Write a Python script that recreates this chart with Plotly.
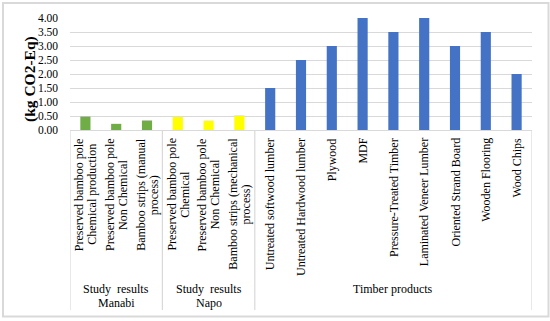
import plotly.graph_objects as go

categories = [
    ["Preserved bamboo pole", "Chemical production"],
    ["Preserved bamboo pole", "Non Chemical"],
    ["Bamboo strips (manual", "process)"],
    ["Preserved bamboo pole", "Chemical"],
    ["Preserved bamboo pole", "Non Chemical"],
    ["Bamboo strips (mechanical", "process)"],
    ["Untreated softwood lumber"],
    ["Untreated Hardwood lumber"],
    ["Plywood"],
    ["MDF"],
    ["Pressure-Treated Timber"],
    ["Laminated Veneer Lumber"],
    ["Oriented Strand Board"],
    ["Wooden Flooring"],
    ["Wood Chips"],
]
groups = ["Manabi"] * 3 + ["Napo"] * 3 + ["Timber"] * 9
values = [0.48, 0.22, 0.34, 0.48, 0.34, 0.53, 1.5, 2.5, 3.0, 4.0, 3.5, 4.0, 3.0, 3.5, 2.0]
group_labels = {"Manabi": ["Study&nbsp; results", "Manabi"],
                "Napo": ["Study&nbsp; results", "Napo"],
                "Timber": ["Timber products"]}
group_colors = {"Manabi": "#70AD47", "Napo": "#FFFF00", "Timber": "#4472C4"}
y_ticks = [0, 0.5, 1.0, 1.5, 2.0, 2.5, 3.0, 3.5, 4.0]
y_title = "(kg CO2-Eq)"

W, H = 550, 321
L, R, T, B = 70, 18, 18, 191
PW, PH = W - L - R, H - T - B
FONT = "Liberation Serif, Times New Roman, serif"
ROT_SIZE = 12
ROT_LH = ROT_SIZE * 1.3
ROT_SPACING = 13

def px_x(p):
    return (p - L) / PW

def px_y(p):
    return (H - B - p) / PH

xs = list(range(len(categories)))
fig = go.Figure()
fig.add_trace(go.Bar(
    x=xs, y=values,
    marker=dict(color=[group_colors[g] for g in groups], line=dict(width=0)),
    width=0.33, showlegend=False, hoverinfo="y",
))

shapes = []
shapes.append(dict(type="rect", xref="paper", yref="paper",
                   x0=px_x(3), x1=px_x(548.5), y0=px_y(316.5), y1=px_y(3),
                   line=dict(color="#d9d9d9", width=2), fillcolor="rgba(0,0,0,0)", layer="below"))
order = []
for g in groups:
    if g not in order:
        order.append(g)
bounds = [-0.5]
for g in order:
    bounds.append(bounds[-1] + groups.count(g))
for b in bounds:
    shapes.append(dict(type="line", xref="x", yref="paper", x0=b, x1=b,
                       y0=0, y1=px_y(310), line=dict(color="#d9d9d9", width=1.2)))

annotations = []
for i, lines in enumerate(categories):
    n = len(lines)
    for k in range(n):
        parts = []
        for j, ln in enumerate(lines):
            if j == k:
                parts.append(ln)
            else:
                parts.append('<span style="color:rgba(0,0,0,0)">%s</span>' % ln)
        annotations.append(dict(
            x=i, y=px_y(136), xref="x", yref="paper", text="<br>".join(parts),
            textangle=-90, showarrow=False, yanchor="top", xanchor="center",
            align="center", xshift=(k - (n - 1) / 2) * (ROT_SPACING - ROT_LH),
            font=dict(family=FONT, size=ROT_SIZE, color="#000")))
for gi, g in enumerate(order):
    center = (bounds[gi] + bounds[gi + 1]) / 2
    for k, ln in enumerate(group_labels[g]):
        annotations.append(dict(x=center, y=px_y(289 + 14 * k), xref="x", yref="paper", text=ln,
                                showarrow=False, yanchor="middle", xanchor="center",
                                font=dict(family=FONT, size=12, color="#000")))
annotations.append(dict(x=px_x(30), y=px_y(79), xref="paper", yref="paper", text="<b>%s</b>" % y_title,
                        textangle=-90, showarrow=False, xanchor="center", yanchor="middle",
                        font=dict(family=FONT, size=15.5, color="#000")))

fig.update_layout(
    width=W, height=H,
    margin=dict(l=L, r=R, t=T, b=B, pad=0),
    paper_bgcolor="white", plot_bgcolor="white",
    shapes=shapes, annotations=annotations,
    xaxis=dict(range=[-0.5, len(categories) - 0.5], showticklabels=False, showgrid=False,
               zeroline=False, showline=True, linecolor="#d9d9d9", linewidth=1.2, fixedrange=True),
    yaxis=dict(range=[0, 4], tickvals=y_ticks, tickformat=".2f", showgrid=True, gridcolor="#d9d9d9",
               gridwidth=1, zeroline=False, showline=False, ticklabelstandoff=11,
               tickfont=dict(family=FONT, size=11.5, color="#000"), fixedrange=True),
    bargap=0.67,
)

fig.write_html("out.html", config={"displayModeBar": False},
               post_script="document.body.style.margin='0';")
